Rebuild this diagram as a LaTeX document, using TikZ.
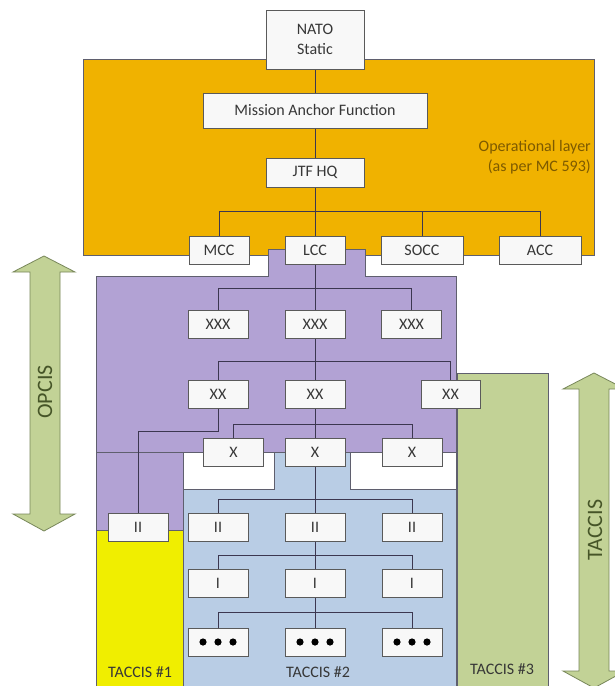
\documentclass[tikz,border=0pt]{standalone}
\usepackage{fontspec}
\setmainfont{Carlito}
\definecolor{orangeL}{RGB}{240,178,0}
\definecolor{purpleL}{RGB}{178,162,212}
\definecolor{blueL}{RGB}{185,205,229}
\definecolor{yellowL}{RGB}{240,238,0}
\definecolor{greenL}{RGB}{194,210,150}
\definecolor{arrowline}{RGB}{120,135,90}
\definecolor{boxfill}{RGB}{248,248,248}
\definecolor{boxline}{RGB}{90,90,90}
\definecolor{boxtext}{RGB}{55,55,55}
\definecolor{connline}{RGB}{60,55,80}
\definecolor{regionline}{RGB}{95,95,110}
\definecolor{oplayer}{RGB}{125,90,0}
\definecolor{arrowtext}{RGB}{70,85,40}
\pgfdeclarelayer{regions}
\pgfdeclarelayer{lines}
\pgfsetlayers{regions,lines,main}
\begin{document}
\begin{tikzpicture}[x=1pt,y=-1pt,
  box/.style={draw=boxline, fill=boxfill, line width=0.8pt, minimum width=60pt,
    minimum height=28pt, inner sep=0pt, text=boxtext, font=\fontsize{16}{18}\selectfont},
  conn/.style={draw=connline, line width=0.9pt},
  region/.style={draw=regionline, line width=0.6pt},
  bigarrow/.style={draw=arrowline, fill=greenL, line width=0.8pt},
  arrowlabel/.style={text=arrowtext, font=\fontsize{22}{24}\selectfont, rotate=90},
  layerlabel/.style={text=boxtext, font=\fontsize{16}{18}\selectfont}]
\path[use as bounding box] (0,0) rectangle (614,686);
\clip (0,0) rectangle (614,686);
\begin{pgfonlayer}{regions}
\fill[white] (0,0) rectangle (614,686);
\draw[region, fill=orangeL] (83,59) rectangle (594,255);
\draw[region, fill=purpleL] (96,276) -- (268,276) -- (268,249) -- (365,249) -- (365,276)
  -- (456,276) -- (456,452) -- (96,452) -- cycle;
\draw[region, fill=purpleL] (96,452) rectangle (183,530);
\draw[region, fill=yellowL] (96,530) rectangle (183,686);
\draw[region, fill=blueL] (183,489) -- (274,489) -- (274,452) -- (350,452) -- (350,489)
  -- (456,489) -- (456,686) -- (183,686) -- cycle;
\draw[region, fill=white] (183,452) rectangle (274,489);
\draw[region, fill=white] (350,452) rectangle (456,489);
\draw[region, fill=greenL] (457,373) rectangle (548,686);
\draw[bigarrow] (44,256) -- (75,272) -- (60,272) -- (60,514) -- (75,514) -- (44,531)
  -- (13,514) -- (30,514) -- (30,272) -- (13,272) -- cycle;
\draw[bigarrow] (594,373) -- (625,389) -- (609,389) -- (609,671) -- (625,671) -- (594,688)
  -- (563,671) -- (579,671) -- (579,389) -- (563,389) -- cycle;
\end{pgfonlayer}
\node[arrowlabel] (opcis) at (45,392) {OPCIS};
\node[arrowlabel] (taccis) at (595,530) {TACCIS};
% labels
\node[text=oplayer, font=\fontsize{16}{20}\selectfont, align=right, anchor=east, inner sep=0pt]
  (oplab) at (591,157) {Operational layer\\(as per MC 593)};
\node[layerlabel] (t1) at (140,672) {TACCIS \#1};
\node[layerlabel] (t2) at (318,672) {TACCIS \#2};
\node[layerlabel] (t3) at (502,669) {TACCIS \#3};
% boxes
\node[box, minimum width=98pt, minimum height=59pt, align=center, font=\fontsize{16}{20}\selectfont] (nato) at (315,39.5) {NATO\\Static};
\node[box, minimum width=224pt, minimum height=35pt] (maf) at (315,110.5) {Mission Anchor Function};
\node[box, minimum width=98pt, minimum height=29pt] (jtf) at (315,172.5) {JTF HQ};
\node[box] (mcc) at (219,250) {MCC};
\node[box] (lcc) at (315,250) {LCC};
\node[box, minimum width=82pt] (socc) at (422,250) {SOCC};
\node[box, minimum width=82pt] (acc) at (540,250) {ACC};
\node[box] (xxxL) at (218,324) {XXX};
\node[box] (xxxM) at (315,324) {XXX};
\node[box] (xxxR) at (411.5,324) {XXX};
\node[box] (xxL) at (218,394.5) {XX};
\node[box] (xxM) at (315,394.5) {XX};
\node[box, minimum width=59pt] (xxR) at (450.5,394.5) {XX};
\node[box] (xL) at (233.5,452) {X};
\node[box] (xM) at (315,452) {X};
\node[box] (xR) at (412,452) {X};
\node[box] (iiA) at (138,527) {II};
\node[box] (iiL) at (218,527) {II};
\node[box] (iiM) at (315,527) {II};
\node[box] (iiR) at (412,527) {II};
\node[box] (iL) at (218,583) {I};
\node[box] (iM) at (315,583) {I};
\node[box] (iR) at (412,583) {I};
\node[box] (dL) at (218,642) {};
\node[box] (dM) at (315,642) {};
\node[box] (dR) at (412,642) {};
\foreach \n in {dL,dM,dR}{
  \foreach \d in {-15,0,15}{
    \fill[black] ([xshift=\d pt]\n.center) circle (3.6);
  }
}
% connectors
\coordinate (b1) at (315,211);
\coordinate (b2) at (315,288);
\coordinate (b3) at (315,361);
\coordinate (b4) at (315,424);
\coordinate (b5) at (315,499);
\coordinate (b6) at (315,555);
\coordinate (b7) at (315,612);
\begin{pgfonlayer}{lines}
\draw[conn] (nato) -- (maf);
\draw[conn] (maf) -- (jtf);
\draw[conn] (jtf) -- (lcc);
\draw[conn] (mcc.north) -- (mcc.north |- b1) -- (acc.north |- b1) -- (acc.north);
\draw[conn] (socc.north) -- (socc.north |- b1);
\draw[conn] (lcc) -- (xxxM);
\draw[conn] (xxxL.north) -- (xxxL.north |- b2) -- (xxxR.north |- b2) -- (xxxR.north);
\draw[conn] (xxxM) -- (xxM);
\draw[conn] (xxL.north) -- (xxL.north |- b3) -- (xxR.north |- b3) -- (xxR.north);
\draw[conn] (xxM) -- (xM);
\draw[conn] (xL.north) -- (xL.north |- b4) -- (xR.north |- b4) -- (xR.north);
\draw[conn] (xxL.south) -- ++(0,23) -| (iiA.north);
\draw[conn] (xM) -- (iiM);
\draw[conn] (iiL.north) -- (iiL.north |- b5) -- (iiR.north |- b5) -- (iiR.north);
\draw[conn] (iiM) -- (iM);
\draw[conn] (iL.north) -- (iL.north |- b6) -- (iR.north |- b6) -- (iR.north);
\draw[conn] (iM) -- (dM);
\draw[conn] (dL.north) -- (dL.north |- b7) -- (dR.north |- b7) -- (dR.north);
\end{pgfonlayer}
\end{tikzpicture}
\end{document}
